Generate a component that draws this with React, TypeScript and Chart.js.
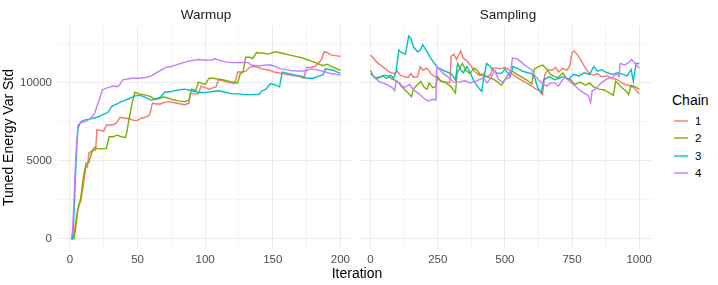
import React, { useEffect, useRef } from "react";
import { Chart, registerables } from "chart.js";
Chart.register(...registerables);

// ---- data ----
const chainNames = ["1", "2", "3", "4"];
const chainColors = ["#F8766D", "#7CAE00", "#00BFC4", "#C77CFF"];

const yTicks = [0, 2500, 5000, 7500, 10000, 12500];
const yLabelTicks = [0, 5000, 10000];
const warmupTicks = [0, 25, 50, 75, 100, 125, 150, 175, 200];
const warmupLabelTicks = [0, 50, 100, 150, 200];
const samplingTicks = [0, 125, 250, 375, 500, 625, 750, 875, 1000];
const samplingLabelTicks = [0, 250, 500, 750, 1000];

// [iteration, tuned energy var std]
const warmupChain1 = [[1,0],[2,0],[3,300],[5,1500],[7,2200],[8,2400],[10,3500],[12,4700],[13,4600],[14,5500],[17,5700],[19,5700],[20,7000],[23,6950],[25,6900],[27,7300],[30,7300],[33,7350],[35,7500],[37,7800],[40,7750],[44,7700],[47,7600],[50,7600],[53,7750],[56,7800],[59,7950],[61,8700],[64,8650],[67,8650],[70,8750],[73,8800],[76,8750],[79,8700],[82,8650],[85,8600],[88,8700],[89,9300],[92,9300],[95,9300],[97,9800],[100,9700],[103,9600],[106,9700],[108,9750],[110,10200],[113,10150],[116,10050],[119,10000],[122,9950],[124,10700],[127,10700],[130,10750],[133,11000],[136,11050],[139,11000],[142,10900],[145,10850],[148,10800],[151,10700],[154,10650],[157,10600],[160,10550],[163,10500],[166,10450],[170,10400],[173,10300],[175,11000],[178,11000],[181,11050],[183,11200],[186,11500],[188,12000],[190,11950],[193,11800],[196,11750],[200,11700]];
const warmupChain2 = [[1,0],[3,0],[4,500],[6,2000],[8,2600],[10,4000],[12,4850],[14,4900],[16,5500],[18,5850],[20,5800],[23,5780],[27,5800],[29,6550],[32,6550],[35,6650],[38,6550],[41,6500],[42,6800],[44,7800],[46,8700],[48,9400],[51,9300],[54,9250],[57,9200],[60,9100],[63,8950],[66,9000],[69,9100],[72,9050],[75,8950],[80,8850],[85,8800],[88,8900],[90,9600],[93,9500],[95,10050],[98,9950],[100,9900],[103,10300],[106,10300],[109,10250],[113,10200],[118,10100],[121,10050],[124,10000],[126,10600],[128,10700],[130,11650],[133,11650],[135,11550],[138,11950],[143,11900],[147,11850],[150,11950],[152,12000],[157,11900],[162,11800],[167,11700],[172,11600],[177,11450],[183,11250],[187,11100],[190,11200],[195,11000],[200,10800]];
const warmupChain3 = [[1,0],[2,0],[3,1500],[4,3800],[5,5800],[6,7100],[8,7500],[10,7600],[14,7680],[18,7750],[20,7800],[23,7900],[25,8000],[28,8100],[31,8500],[35,8650],[38,8800],[40,8870],[44,9000],[48,9170],[52,9200],[55,9100],[60,8900],[63,8950],[67,9100],[70,9400],[75,9450],[80,9550],[85,9600],[90,9500],[95,9400],[100,9380],[105,9450],[110,9500],[115,9400],[120,9300],[125,9300],[130,9250],[135,9250],[140,9280],[142,9500],[145,9600],[148,9940],[151,9900],[155,9750],[157,10700],[162,10600],[167,10500],[172,10400],[175,10300],[180,10300],[184,10450],[187,10500],[189,10900],[195,10800],[200,10600]];
const warmupChain4 = [[1,0],[2,500],[3,2500],[4,4500],[5,6200],[6,7300],[8,7450],[11,7500],[15,7700],[18,8000],[20,8500],[22,9000],[24,9550],[28,9700],[32,9800],[35,9760],[37,9900],[39,10200],[43,10250],[46,10300],[51,10300],[56,10350],[60,10450],[63,10600],[67,10800],[71,11000],[75,11050],[80,11200],[84,11300],[88,11400],[92,11450],[95,11500],[100,11450],[105,11470],[107,11550],[111,11450],[115,11350],[120,11300],[124,11300],[128,11320],[132,11300],[134,11150],[137,11100],[141,11100],[145,11150],[149,11150],[152,11050],[156,10900],[160,10850],[163,10800],[167,10780],[171,10750],[175,10800],[178,10900],[182,10850],[185,10800],[189,10700],[193,10600],[197,10550],[200,10500]];

const samplingChain1 = [[0,11800],[10,11600],[25,11300],[40,11100],[55,10900],[70,10700],[85,10600],[100,10750],[110,10500],[125,10400],[140,10350],[150,10600],[160,10350],[175,10400],[185,11050],[195,10800],[210,10950],[225,10600],[240,10400],[255,10200],[270,10100],[285,10050],[295,10000],[300,11700],[310,11850],[320,11500],[335,12050],[345,11600],[360,11400],[375,11050],[390,10700],[405,10500],[420,10600],[430,10400],[445,10500],[455,10950],[470,10950],[485,10900],[500,11000],[515,10850],[525,10600],[540,10400],[560,10200],[580,10000],[600,9800],[615,9600],[630,9500],[640,9250],[648,10500],[660,10850],[675,10800],[690,11000],[700,10700],[715,10950],[730,10800],[742,11100],[750,11950],[757,12050],[770,11800],[785,11400],[800,10950],[815,10600],[830,10500],[845,10600],[860,10400],[880,10450],[900,10300],[920,10200],[940,9950],[960,9850],[980,9700],[1000,9300]];
const samplingChain2 = [[0,10800],[10,10450],[20,10250],[35,10350],[50,10500],[65,10450],[80,10250],[95,10150],[110,9900],[125,9600],[140,9350],[152,9120],[160,9600],[175,9900],[187,10100],[200,9700],[210,9600],[218,10000],[232,9700],[242,9750],[250,10400],[262,10100],[280,10000],[300,9750],[316,9350],[322,10600],[330,10900],[342,11250],[355,10800],[370,10600],[385,10950],[395,10850],[410,10500],[430,10400],[450,10300],[470,10100],[488,9850],[500,10200],[515,10600],[525,10800],[540,10600],[560,10400],[580,10200],[600,9950],[610,10900],[625,11050],[641,11150],[655,10900],[670,10550],[685,10400],[700,10350],[715,10650],[730,10300],[745,10200],[760,9900],[780,10050],[800,9850],[815,10000],[830,9750],[850,9600],[870,9550],[890,9350],[904,9200],[912,10100],[920,10000],[935,9700],[950,9500],[960,9250],[970,9850],[985,9750],[1000,9600]];
const samplingChain3 = [[0,10600],[15,10350],[30,10350],[45,10450],[60,10300],[75,10500],[85,10300],[95,10700],[105,12100],[115,11950],[130,11850],[142,13000],[150,12850],[160,12300],[175,12000],[185,12100],[194,12450],[205,12150],[220,11700],[235,11300],[250,11000],[265,10850],[285,10700],[300,10600],[316,10200],[324,11250],[335,10850],[345,10650],[359,11050],[370,10700],[385,10100],[400,9750],[414,9450],[420,10200],[432,11250],[445,11050],[460,10750],[475,10600],[490,10650],[500,10900],[520,10400],[530,11050],[545,10950],[565,10750],[585,10650],[600,10600],[612,10300],[622,9700],[635,9350],[645,10200],[665,10400],[685,10200],[700,10300],[720,10400],[735,10200],[755,10550],[775,10450],[795,10650],[815,10550],[831,11050],[845,10750],[860,10850],[880,10650],[900,10550],[920,10650],[940,10550],[955,10450],[970,10850],[978,10100],[988,11250],[1000,11250]];
const samplingChain4 = [[0,10600],[15,10400],[30,10100],[45,10000],[60,9900],[80,9700],[90,9500],[95,10150],[110,9950],[125,9700],[145,9900],[160,9550],[180,9300],[200,9000],[215,8850],[230,8950],[243,8900],[246,11050],[260,10800],[275,10550],[295,10300],[310,10050],[330,10050],[350,10150],[370,10000],[390,10100],[410,10250],[420,10350],[433,10000],[445,10250],[463,10800],[475,10250],[490,10050],[505,10250],[520,10350],[524,11000],[528,11600],[545,11550],[560,11350],[580,11050],[600,10850],[610,10500],[625,10200],[640,9950],[655,9800],[670,10000],[685,10000],[700,9800],[710,10100],[725,10400],[745,10050],[765,9750],[780,9500],[795,9350],[810,9200],[819,8750],[825,9500],[840,9650],[855,9950],[870,10150],[885,10300],[900,10350],[915,10600],[925,10400],[929,11250],[945,11150],[960,11300],[972,11500],[985,11250],[1000,10950]];

const warmupSeries = [warmupChain1, warmupChain2, warmupChain3, warmupChain4];
const samplingSeries = [samplingChain1, samplingChain2, samplingChain3, samplingChain4];

const FONT = "'Liberation Sans', Arial, sans-serif";
const MAJOR = "#EBEBEB";
const MINOR = "#F4F4F4";

function makePanel(
  canvas: HTMLCanvasElement,
  series: number[][][],
  xMin: number,
  xMax: number,
  xTicks: number[],
  xLabels: number[],
  showY: boolean
) {
  return new Chart(canvas, {
    type: "line",
    data: {
      datasets: series.map((pts, i) => ({
        label: chainNames[i],
        data: pts.map(([x, y]) => ({ x, y })),
        borderColor: chainColors[i],
        backgroundColor: chainColors[i],
        borderWidth: 1.4,
        pointRadius: 0,
        tension: 0,
        fill: false,
        order: 3 - i,
      })),
    },
    options: {
      animation: false,
      responsive: false,
      devicePixelRatio: 1,
      layout: { padding: { top: 26, left: 0, right: 0, bottom: 0 } },
      plugins: { legend: { display: false }, tooltip: { enabled: false } },
      scales: {
        x: {
          type: "linear",
          min: xMin,
          max: xMax,
          border: { display: false },
          grid: {
            drawTicks: false,
            color: (ctx: any) => (xLabels.includes(ctx.tick?.value) ? MAJOR : MINOR),
            lineWidth: 1,
          },
          afterBuildTicks: (s: any) => {
            s.ticks = xTicks.map((v) => ({ value: v }));
          },
          afterFit: (s: any) => {
            s.height = 36;
          },
          ticks: {
            padding: 4,
            color: "#4D4D4D",
            font: { family: FONT, size: 11.5 },
            maxRotation: 0,
            autoSkip: false,
            callback: (v: any) => (xLabels.includes(Number(v)) ? String(v) : ""),
          },
        },
        y: {
          type: "linear",
          min: -650,
          max: 13650,
          border: { display: false },
          grid: {
            drawTicks: false,
            color: (ctx: any) => (yLabelTicks.includes(ctx.tick?.value) ? MAJOR : MINOR),
            lineWidth: 1,
          },
          afterBuildTicks: (s: any) => {
            s.ticks = yTicks.map((v) => ({ value: v }));
          },
          afterFit: (s: any) => {
            s.width = showY ? 58 : 0;
          },
          title: {
            display: showY,
            text: "Tuned Energy Var Std",
            color: "#000000",
            font: { family: FONT, size: 14 },
            padding: { top: 1, bottom: 0 },
          },
          ticks: {
            display: showY,
            padding: 6,
            color: "#4D4D4D",
            font: { family: FONT, size: 11.5 },
            autoSkip: false,
            callback: (v: any) => (yLabelTicks.includes(Number(v)) ? String(v) : ""),
          },
        },
      },
    },
  });
}

export default function App() {
  const warmRef = useRef<HTMLCanvasElement>(null);
  const sampRef = useRef<HTMLCanvasElement>(null);

  useEffect(() => {
    document.body.style.margin = "0";
    const c1 = makePanel(warmRef.current!, warmupSeries, -8.8, 207.8, warmupTicks, warmupLabelTicks, true);
    const c2 = makePanel(sampRef.current!, samplingSeries, -39.3, 1049, samplingTicks, samplingLabelTicks, false);
    return () => {
      c1.destroy();
      c2.destroy();
    };
  }, []);

  const stripStyle: React.CSSProperties = {
    position: "absolute",
    top: 6,
    width: 296,
    textAlign: "center",
    fontFamily: FONT,
    fontSize: 13.5,
    lineHeight: "18px",
    color: "#1A1A1A",
  };

  return (
    <div style={{ position: "relative", width: 718, height: 285, background: "#FFFFFF", overflow: "hidden", fontFamily: FONT }}>
      <canvas ref={warmRef} width={354} height={285} style={{ position: "absolute", left: 0, top: 0, width: 354, height: 285 }} />
      <canvas ref={sampRef} width={296} height={285} style={{ position: "absolute", left: 360, top: 0, width: 296, height: 285 }} />
      <div style={{ ...stripStyle, left: 58 }}>Warmup</div>
      <div style={{ ...stripStyle, left: 360 }}>Sampling</div>
      <div
        style={{
          position: "absolute",
          left: 257,
          width: 200,
          top: 264,
          textAlign: "center",
          fontSize: 14,
          lineHeight: "18px",
          color: "#000000",
        }}
      >
        Iteration
      </div>
      <div style={{ position: "absolute", left: 672, top: 91, fontSize: 14, lineHeight: "18px", color: "#000000" }}>Chain</div>
      {chainNames.map((name, i) => {
        const cy = 120.7 + i * 17.4;
        return (
          <React.Fragment key={name}>
            <svg
              width={16}
              height={6}
              style={{ position: "absolute", left: 673, top: cy - 3, overflow: "visible" }}
            >
              <line x1={1} y1={3} x2={15} y2={3} stroke={chainColors[i]} strokeWidth={1.4} />
            </svg>
            <div
              style={{
                position: "absolute",
                left: 695,
                top: cy - 9,
                fontSize: 11.5,
                lineHeight: "18px",
                color: "#000000",
              }}
            >
              {name}
            </div>
          </React.Fragment>
        );
      })}
    </div>
  );
}
